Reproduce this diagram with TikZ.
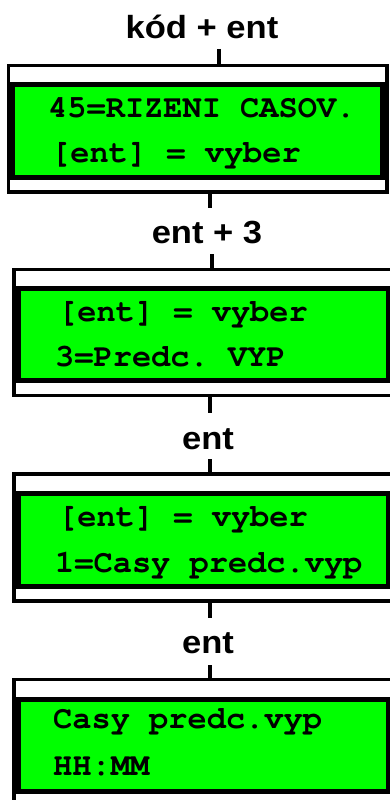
\documentclass[tikz,border=0pt]{standalone}
\usepackage{fontspec}
\setmonofont{texgyrecursor-regular}[Extension=.otf, BoldFont=texgyrecursor-bold]
\newfontfamily\lblfont[FakeStretch=1.08]{Liberation Sans Bold}
\definecolor{lcdgreen}{HTML}{00FF00}
\tikzset{
  outerbox/.style={draw=black, line width=3.5pt, fill=white},
  lcdbox/.style={draw=black, line width=5pt, fill=lcdgreen},
  lcdtext/.style={anchor=base west, inner sep=0pt, font=\ttfamily\bfseries\fontsize{32}{36}\selectfont},
  keylbl/.style={anchor=base, inner sep=0pt, font=\lblfont\fontsize{32}{38}\selectfont},
  conn/.style={draw=black, line width=3.5pt}
}
\begin{document}
\begin{tikzpicture}[x=1pt,y=-1pt]
\useasboundingbox (0,0) rectangle (390,800);
\clip (0,0) rectangle (390,800);
% box 1
\draw[outerbox] (8.5,65.5) rectangle (387,192);
\draw[lcdbox] (12.5,84.5) rectangle (382.5,177.5);
\node[lcdtext] (t11) at (48,117) {45=RIZENI CASOV.};
\node[lcdtext] (t12) at (51,162) {[ent] = vyber};
% box 2
\draw[outerbox] (14,269.5) rectangle (396,395.5);
\draw[lcdbox] (18.5,288.5) rectangle (388.5,380.5);
\node[lcdtext] (t21) at (58,321) {[ent] = vyber};
\node[lcdtext] (t22) at (55,366) {3=Predc. VYP};
% box 3
\draw[outerbox] (14,474) rectangle (396,601);
\draw[lcdbox] (18.5,493.5) rectangle (388.5,586.5);
\node[lcdtext] (t31) at (58,526) {[ent] = vyber};
\node[lcdtext] (t32) at (55,572) {1=Casy predc.vyp};
% box 4
\draw[outerbox] (14,679.5) rectangle (396,812);
\draw[lcdbox] (18.5,699) rectangle (388.5,791);
\node[lcdtext] (t41) at (53,728) {Casy predc.vyp};
\node[lcdtext] (t42) at (53,775) {HH:MM};
% labels
\node[keylbl] (k1) at (202,39) {kód + ent};
\node[keylbl] (k2) at (207,243) {ent + 3};
\node[keylbl] (k3) at (208,449) {ent};
\node[keylbl] (k4) at (208,653) {ent};
% connectors
\coordinate (a1) at (219,49); \coordinate (b1) at (219,65.5);
\coordinate (a2) at (210,192); \coordinate (b2) at (210,208);
\coordinate (a3) at (212,254); \coordinate (b3) at (212,269.5);
\coordinate (a4) at (210,395.5); \coordinate (b4) at (210,413);
\coordinate (a5) at (210,459); \coordinate (b5) at (210,474);
\coordinate (a6) at (210,601); \coordinate (b6) at (210,618);
\coordinate (a7) at (210,665); \coordinate (b7) at (210,679.5);
\draw[conn] (a1) -- (b1);
\draw[conn] (a2) -- (b2);
\draw[conn] (a3) -- (b3);
\draw[conn] (a4) -- (b4);
\draw[conn] (a5) -- (b5);
\draw[conn] (a6) -- (b6);
\draw[conn] (a7) -- (b7);
\end{tikzpicture}
\end{document}
